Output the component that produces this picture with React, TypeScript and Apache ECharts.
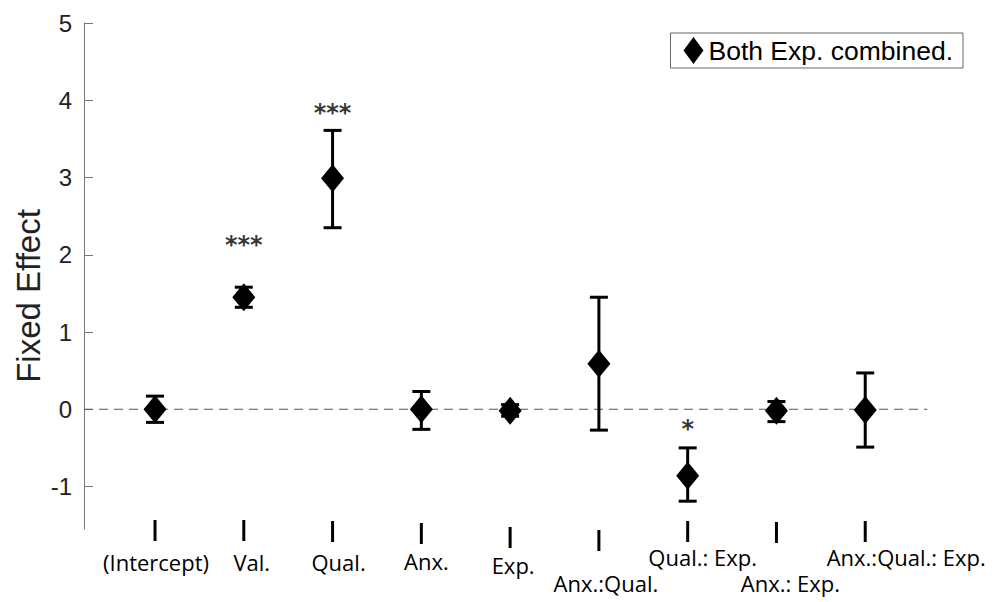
import React, { useEffect, useRef } from "react";
import * as echarts from "echarts";

const categories = [
  "(Intercept)",
  "Val.",
  "Qual.",
  "Anx.",
  "Exp.",
  "Anx.:Qual.",
  "Qual.: Exp.",
  "Anx.: Exp.",
  "Anx.:Qual.: Exp.",
];
const positions = [1, 2, 3, 4, 5, 6, 7, 8, 9];
const estimates = [0, 1.45, 2.99, 0, -0.02, 0.59, -0.86, -0.02, -0.01];
const ciLow = [-0.17, 1.32, 2.35, -0.26, -0.09, -0.27, -1.19, -0.16, -0.49];
const ciHigh = [0.17, 1.58, 3.61, 0.23, 0.06, 1.45, -0.5, 0.1, 0.47];
const stars = ["", "***", "***", "", "", "", "*", "", ""];
const starY = [0, 2.12, 3.84, 0, 0, 0, -0.25, 0, 0];
const yTicks = [-1, 0, 1, 2, 3, 4, 5];
const legendName = "Both Exp. combined.";

// label layout (pixels): spacer above bar, gap between bar and text, text horizontal shift
const barTop = [2, 2, 3, 5, 9, 12, 3, 4, 3];
const barGap = [10, 10, 9, 6, 6, 21, 4, 29, 4];
const textShift = [1, 8, 6, 5, 3, 7, 15, 14, 41];

// plot geometry
const X_MIN = 0.2;
const X_MAX = 10;
const GRID_LEFT = 84;
const GRID_RIGHT = 41;
const W = 995;

export default function App() {
  const ref = useRef<HTMLDivElement>(null);
  useEffect(() => {
    if (!ref.current) return;
    const chart = echarts.init(ref.current, null, { renderer: "svg" });

    const rich: any = {
      bar: { width: 3, height: 21, lineHeight: 21, backgroundColor: "#000", fontSize: 1 },
    };
    categories.forEach((_, i) => {
      rich["s" + i] = { fontSize: 1, height: barTop[i], lineHeight: barTop[i] };
      rich["g" + i] = { fontSize: 1, height: barGap[i], lineHeight: barGap[i] };
      rich["t" + i] = {
        fontSize: 22,
        fontFamily: "Open Sans",
        lineHeight: 22,
        color: "#000",
        padding: [0, 0, 0, textShift[i] * 2],
      };
    });

    // label grid: category bands centered on positions 1..9 of the value axis
    const plotW = W - GRID_LEFT - GRID_RIGHT;
    const unit = plotW / (X_MAX - X_MIN);
    const labLeft = GRID_LEFT + (positions[0] - 0.5 - X_MIN) * unit;
    const labRight = W - (GRID_LEFT + (positions[positions.length - 1] + 0.5 - X_MIN) * unit);

    const points = positions.map((p, i) => [p, estimates[i]]);
    const bars = positions.map((p, i) => [p, ciLow[i], ciHigh[i]]);
    const starData = positions
      .map((p, i) => ({ value: [p, starY[i]], label: stars[i] }))
      .filter((d) => d.label !== "");

    chart.setOption({
      animation: false,
      backgroundColor: "#fff",
      grid: [
        { left: GRID_LEFT, right: GRID_RIGHT, top: 23, bottom: 73 },
        { left: labLeft, right: labRight, top: 23, bottom: 73 },
      ],
      legend: {
        data: [{ name: legendName, icon: "diamond" }],
        right: 32,
        top: 33,
        orient: "vertical",
        borderColor: "#666",
        borderWidth: 1,
        borderRadius: 0,
        padding: [4, 10, 4, 13],
        itemWidth: 20,
        itemHeight: 27,
        itemGap: 4,
        textStyle: { fontSize: 26.5, fontFamily: "Liberation Sans", color: "#000" },
      },
      xAxis: [
        {
          type: "value",
          gridIndex: 0,
          min: X_MIN,
          max: X_MAX,
          axisLine: { show: false },
          axisTick: { show: false },
          splitLine: { show: false },
          axisLabel: { show: false },
        },
        {
          type: "category",
          gridIndex: 1,
          data: categories,
          boundaryGap: true,
          axisLine: { show: false },
          axisTick: { show: false },
          splitLine: { show: false },
          axisLabel: {
            interval: 0,
            margin: -11,
            formatter: (v: string, i: number) =>
              `{s${i}| }\n{bar| }\n{g${i}| }\n{t${i}|${v}}`,
            rich,
          },
        },
      ],
      yAxis: [
        {
          type: "value",
          gridIndex: 0,
          min: -1.55,
          max: 5,
          axisLine: { show: true, lineStyle: { color: "#777", width: 1 } },
          axisTick: {
            show: true,
            inside: true,
            length: 9,
            customValues: yTicks,
            lineStyle: { color: "#777" },
          },
          splitLine: { show: false },
          axisLabel: {
            customValues: yTicks,
            margin: 12,
            fontSize: 24,
            fontFamily: "Liberation Sans",
            color: "#222",
          },
        },
        {
          type: "value",
          gridIndex: 1,
          show: false,
        },
      ],
      graphic: [
        {
          type: "text",
          x: 28,
          y: 296,
          rotation: Math.PI / 2,
          style: {
            text: "Fixed Effect",
            font: '33px "Liberation Sans"',
            fill: "#222",
            align: "center",
            verticalAlign: "middle",
            textAlign: "center",
            textVerticalAlign: "middle",
          },
        },
      ],
      series: [
        {
          name: "zero",
          type: "line",
          data: [
            [X_MIN, 0],
            [9.7, 0],
          ],
          symbol: "none",
          silent: true,
          z: 1,
          lineStyle: { color: "#555", width: 1, type: [9, 6] },
        },
        {
          name: "ci",
          type: "custom",
          z: 2,
          silent: true,
          encode: { x: 0, y: [1, 2] },
          data: bars,
          renderItem: (params: any, api: any) => {
            const x = api.value(0);
            const pLo = api.coord([x, api.value(1)]);
            const pHi = api.coord([x, api.value(2)]);
            const hw = 9;
            const style = { stroke: "#000", lineWidth: 3 };
            return {
              type: "group",
              children: [
                { type: "line", shape: { x1: pLo[0], y1: pLo[1], x2: pHi[0], y2: pHi[1] }, style },
                { type: "line", shape: { x1: pLo[0] - hw, y1: pLo[1], x2: pLo[0] + hw, y2: pLo[1] }, style },
                { type: "line", shape: { x1: pHi[0] - hw, y1: pHi[1], x2: pHi[0] + hw, y2: pHi[1] }, style },
              ],
            };
          },
        },
        {
          name: legendName,
          type: "scatter",
          z: 3,
          data: points,
          symbol: "diamond",
          symbolSize: [23, 28],
          itemStyle: { color: "#000", opacity: 1 },
        },
        {
          name: "stars",
          type: "scatter",
          z: 4,
          silent: true,
          symbolSize: 0,
          data: starData,
          label: {
            show: true,
            position: "inside",
            formatter: (p: any) => p.data.label,
            fontSize: 24,
            fontWeight: "bold",
            fontFamily: "DejaVu Sans",
            color: "#000",
          },
        },
      ],
    });
    return () => chart.dispose();
  }, []);
  return (
    <div
      ref={ref}
      style={{ position: "fixed", left: 0, top: 0, width: 995, height: 602, background: "#fff" }}
    />
  );
}
